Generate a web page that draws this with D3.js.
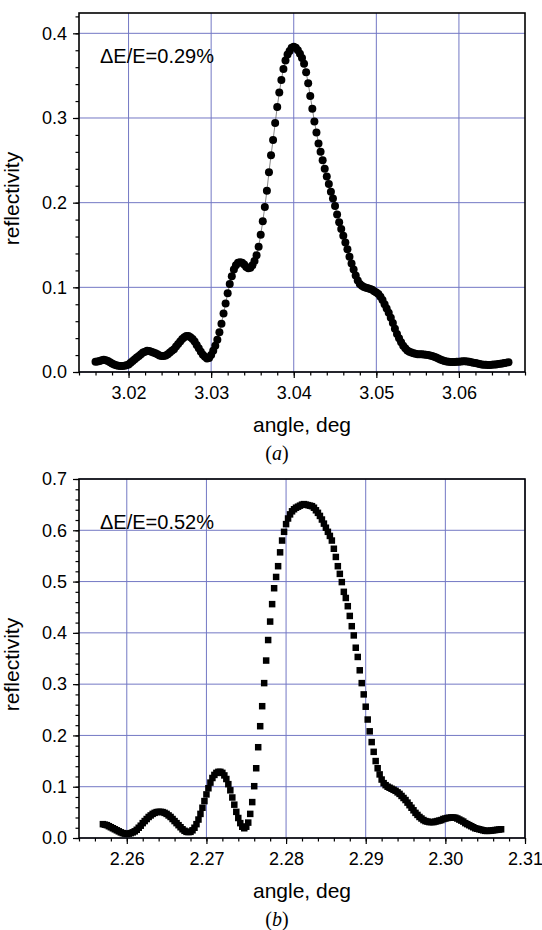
<!DOCTYPE html>
<html>
<head>
<meta charset="utf-8">
<script src="https://cdn.jsdelivr.net/npm/d3@7"></script>
<style>
  body { margin: 0; background: #fff; }
  svg { display: block; }
</style>
</head>
<body>
<div id="chart"></div>
<script>
/* Reflectivity curves vs angle, two panels (a) and (b) */

// panel (a): scan points
const topAngle = [
  3.01600,3.01625,3.01650,3.01675,3.01700,3.01725,3.01750,3.01775,
  3.01800,3.01825,3.01850,3.01875,3.01900,3.01925,3.01950,3.01975,
  3.02000,3.02025,3.02050,3.02075,3.02100,3.02125,3.02150,3.02175,
  3.02200,3.02225,3.02250,3.02275,3.02300,3.02325,3.02350,3.02375,
  3.02400,3.02425,3.02450,3.02475,3.02500,3.02525,3.02550,3.02575,
  3.02600,3.02625,3.02650,3.02675,3.02700,3.02725,3.02750,3.02775,
  3.02800,3.02825,3.02850,3.02875,3.02900,3.02925,3.02950,3.02975,
  3.03000,3.03025,3.03050,3.03075,3.03100,3.03125,3.03150,3.03175,
  3.03200,3.03225,3.03250,3.03275,3.03300,3.03325,3.03350,3.03375,
  3.03400,3.03425,3.03450,3.03475,3.03500,3.03525,3.03550,3.03575,
  3.03600,3.03625,3.03650,3.03675,3.03700,3.03725,3.03750,3.03775,
  3.03800,3.03825,3.03850,3.03875,3.03900,3.03925,3.03950,3.03975,
  3.04000,3.04025,3.04050,3.04075,3.04100,3.04125,3.04150,3.04175,
  3.04200,3.04225,3.04250,3.04275,3.04300,3.04325,3.04350,3.04375,
  3.04400,3.04425,3.04450,3.04475,3.04500,3.04525,3.04550,3.04575,
  3.04600,3.04625,3.04650,3.04675,3.04700,3.04725,3.04750,3.04775,
  3.04800,3.04825,3.04850,3.04875,3.04900,3.04925,3.04950,3.04975,
  3.05000,3.05025,3.05050,3.05075,3.05100,3.05125,3.05150,3.05175,
  3.05200,3.05225,3.05250,3.05275,3.05300,3.05325,3.05350,3.05375,
  3.05400,3.05425,3.05450,3.05475,3.05500,3.05525,3.05550,3.05575,
  3.05600,3.05625,3.05650,3.05675,3.05700,3.05725,3.05750,3.05775,
  3.05800,3.05825,3.05850,3.05875,3.05900,3.05925,3.05950,3.05975,
  3.06000,3.06025,3.06050,3.06075,3.06100,3.06125,3.06150,3.06175,
  3.06200,3.06225,3.06250,3.06275,3.06300,3.06325,3.06350,3.06375,
  3.06400,3.06425,3.06450,3.06475,3.06500,3.06525,3.06550,3.06575,
  3.06600
];
const topRefl = [
  0.012,0.0125,0.013,0.014,0.0145,0.014,0.013,0.0115,
  0.010,0.009,0.008,0.0075,0.007,0.007,0.0075,0.008,
  0.009,0.011,0.013,0.015,0.017,0.019,0.021,0.023,
  0.024,0.025,0.0248,0.024,0.023,0.022,0.021,0.0195,
  0.019,0.019,0.0195,0.021,0.023,0.025,0.027,0.030,
  0.033,0.036,0.039,0.041,0.0425,0.0425,0.041,0.039,
  0.036,0.032,0.028,0.024,0.0205,0.018,0.016,0.0165,
  0.020,0.025,0.031,0.038,0.047,0.057,0.069,0.081,
  0.093,0.104,0.113,0.121,0.126,0.129,0.1295,0.129,
  0.127,0.124,0.1225,0.123,0.126,0.131,0.138,0.148,
  0.162,0.178,0.195,0.214,0.236,0.256,0.274,0.294,
  0.313,0.330,0.345,0.358,0.368,0.375,0.379,0.383,
  0.384,0.383,0.380,0.376,0.371,0.364,0.354,0.341,
  0.326,0.311,0.296,0.283,0.270,0.260,0.250,0.240,
  0.231,0.222,0.213,0.205,0.196,0.186,0.177,0.169,
  0.161,0.153,0.145,0.136,0.128,0.121,0.114,0.108,
  0.104,0.102,0.1005,0.0995,0.099,0.098,0.097,0.0955,
  0.094,0.092,0.089,0.085,0.080,0.075,0.070,0.064,
  0.058,0.051,0.045,0.040,0.035,0.031,0.028,0.0255,
  0.024,0.023,0.022,0.0215,0.021,0.021,0.021,0.0208,
  0.0205,0.020,0.0195,0.019,0.018,0.017,0.016,0.0148,
  0.0138,0.013,0.0125,0.012,0.0118,0.0118,0.0118,0.012,
  0.0122,0.0125,0.0127,0.0127,0.0125,0.012,0.0115,0.011,
  0.0105,0.010,0.0095,0.009,0.0087,0.0085,0.0083,0.0083,
  0.0085,0.0088,0.009,0.0095,0.0098,0.010,0.0105,0.011,
  0.0115
];

// panel (b): scan points
const botAngle = [
  2.25700,2.25725,2.25750,2.25775,2.25800,2.25825,2.25850,2.25875,
  2.25900,2.25925,2.25950,2.25975,2.26000,2.26025,2.26050,2.26075,
  2.26100,2.26125,2.26150,2.26175,2.26200,2.26225,2.26250,2.26275,
  2.26300,2.26325,2.26350,2.26375,2.26400,2.26425,2.26450,2.26475,
  2.26500,2.26525,2.26550,2.26575,2.26600,2.26625,2.26650,2.26675,
  2.26700,2.26725,2.26750,2.26775,2.26800,2.26825,2.26850,2.26875,
  2.26900,2.26925,2.26950,2.26975,2.27000,2.27025,2.27050,2.27075,
  2.27100,2.27125,2.27150,2.27175,2.27200,2.27225,2.27250,2.27275,
  2.27300,2.27325,2.27350,2.27375,2.27400,2.27425,2.27450,2.27475,
  2.27500,2.27525,2.27550,2.27575,2.27600,2.27625,2.27650,2.27675,
  2.27700,2.27725,2.27750,2.27775,2.27800,2.27825,2.27850,2.27875,
  2.27900,2.27925,2.27950,2.27975,2.28000,2.28025,2.28050,2.28075,
  2.28100,2.28125,2.28150,2.28175,2.28200,2.28225,2.28250,2.28275,
  2.28300,2.28325,2.28350,2.28375,2.28400,2.28425,2.28450,2.28475,
  2.28500,2.28525,2.28550,2.28575,2.28600,2.28625,2.28650,2.28675,
  2.28700,2.28725,2.28750,2.28775,2.28800,2.28825,2.28850,2.28875,
  2.28900,2.28925,2.28950,2.28975,2.29000,2.29025,2.29050,2.29075,
  2.29100,2.29125,2.29150,2.29175,2.29200,2.29225,2.29250,2.29275,
  2.29300,2.29325,2.29350,2.29375,2.29400,2.29425,2.29450,2.29475,
  2.29500,2.29525,2.29550,2.29575,2.29600,2.29625,2.29650,2.29675,
  2.29700,2.29725,2.29750,2.29775,2.29800,2.29825,2.29850,2.29875,
  2.29900,2.29925,2.29950,2.29975,2.30000,2.30025,2.30050,2.30075,
  2.30100,2.30125,2.30150,2.30175,2.30200,2.30225,2.30250,2.30275,
  2.30300,2.30325,2.30350,2.30375,2.30400,2.30425,2.30450,2.30475,
  2.30500,2.30525,2.30550,2.30575,2.30600,2.30625,2.30650,2.30675,
  2.30700
];
const botRefl = [
  0.027,0.026,0.025,0.023,0.021,0.019,0.017,0.015,
  0.013,0.011,0.0095,0.0085,0.008,0.0085,0.0095,0.011,
  0.013,0.016,0.020,0.024,0.029,0.033,0.037,0.041,
  0.044,0.047,0.049,0.0505,0.051,0.051,0.0505,0.049,
  0.047,0.044,0.041,0.037,0.033,0.029,0.025,0.021,
  0.017,0.014,0.012,0.0115,0.012,0.015,0.020,0.027,
  0.036,0.047,0.059,0.072,0.085,0.097,0.108,0.117,
  0.123,0.127,0.129,0.129,0.127,0.122,0.115,0.105,
  0.093,0.079,0.065,0.051,0.039,0.029,0.022,0.019,
  0.022,0.030,0.047,0.070,0.101,0.136,0.177,0.218,
  0.257,0.302,0.346,0.386,0.422,0.456,0.487,0.509,
  0.530,0.557,0.580,0.597,0.612,0.623,0.631,0.637,
  0.641,0.644,0.646,0.648,0.650,0.651,0.650,0.649,
  0.648,0.647,0.644,0.639,0.634,0.628,0.621,0.613,
  0.605,0.597,0.589,0.580,0.564,0.548,0.530,0.515,
  0.499,0.480,0.468,0.452,0.433,0.413,0.395,0.371,
  0.353,0.327,0.302,0.280,0.256,0.231,0.208,0.187,
  0.168,0.150,0.136,0.124,0.114,0.107,0.103,0.100,
  0.098,0.096,0.094,0.092,0.089,0.086,0.082,0.078,
  0.074,0.069,0.064,0.059,0.054,0.049,0.045,0.041,
  0.038,0.035,0.033,0.032,0.031,0.031,0.031,0.032,
  0.033,0.034,0.035,0.037,0.038,0.039,0.0395,0.040,
  0.040,0.0395,0.038,0.036,0.034,0.032,0.029,0.027,
  0.025,0.023,0.021,0.019,0.018,0.017,0.016,0.015,
  0.014,0.0138,0.014,0.0145,0.015,0.0155,0.016,0.0165,
  0.017
];

// tick labels
const topXTicks = [3.02, 3.03, 3.04, 3.05, 3.06];
const topYTicks = [0.0, 0.1, 0.2, 0.3, 0.4];
const botXTicks = [2.26, 2.27, 2.28, 2.29, 2.30, 2.31];
const botYTicks = [0.0, 0.1, 0.2, 0.3, 0.4, 0.5, 0.6, 0.7];

const width = 542,
      height = 930,
      margin = ({ left: 79, right: 17 });

const sans = "'Liberation Sans', Arial, sans-serif",
      gridColor = "#7378c4";

let svg = d3.select("#chart")
    .append("svg")
    .attr("width", width)
    .attr("height", height);

const panels = [
    { angle: topAngle, refl: topRefl, xTicks: topXTicks, yTicks: topYTicks,
      xDomain: [3.014, 3.068], yDomain: [0, 0.424], top: 13, bottom: 372,
      note: "\u0394E/E=0.29%", letter: "a", marker: "circle" },
    { angle: botAngle, refl: botRefl, xTicks: botXTicks, yTicks: botYTicks,
      xDomain: [2.254, 2.31], yDomain: [0, 0.7], top: 479, bottom: 838,
      note: "\u0394E/E=0.52%", letter: "b", marker: "square" }
];

panels.forEach(p => {
    const data = p.angle.map((a, i) => ({ a: a, r: p.refl[i] }));

    let x = d3.scaleLinear()
        .domain(p.xDomain)
        .range([margin.left, width - margin.right]);

    let y = d3.scaleLinear()
        .domain(p.yDomain)
        .range([p.bottom, p.top]);

    const g = svg.append("g");

    // grid lines at major ticks
    g.append("g")
        .selectAll("line")
        .data(p.xTicks)
        .join("line")
        .attr("x1", d => x(d)).attr("x2", d => x(d))
        .attr("y1", p.top).attr("y2", p.bottom)
        .attr("stroke", gridColor)
        .attr("stroke-width", 1);

    g.append("g")
        .selectAll("line")
        .data(p.yTicks)
        .join("line")
        .attr("x1", x.range()[0]).attr("x2", x.range()[1])
        .attr("y1", d => y(d)).attr("y2", d => y(d))
        .attr("stroke", gridColor)
        .attr("stroke-width", 1);

    // minor ticks every 0.002 deg / 0.02
    const xMinor = d3.range(p.xDomain[0], p.xDomain[1] + 1e-9, 0.002);
    const yMinor = d3.range(p.yDomain[0], p.yDomain[1] + 1e-9, 0.02);

    g.append("g")
        .attr("transform", `translate(0,${p.bottom})`)
        .call(d3.axisBottom(x).tickValues(xMinor).tickSize(3.5).tickFormat(""))
        .call(a => a.select(".domain").remove());

    g.append("g")
        .attr("transform", `translate(${margin.left},0)`)
        .call(d3.axisLeft(y).tickValues(yMinor).tickSize(3.5).tickFormat(""))
        .call(a => a.select(".domain").remove());

    // major ticks with labels
    g.append("g")
        .attr("transform", `translate(0,${p.bottom})`)
        .call(d3.axisBottom(x).tickValues(p.xTicks).tickSize(6).tickPadding(8)
            .tickFormat(d3.format(".2f")))
        .call(a => a.select(".domain").remove())
        .attr("font-size", 18)
        .attr("font-family", sans);

    g.append("g")
        .attr("transform", `translate(${margin.left},0)`)
        .call(d3.axisLeft(y).tickValues(p.yTicks).tickSize(6).tickPadding(6)
            .tickFormat(d3.format(".1f")))
        .call(a => a.select(".domain").remove())
        .attr("font-size", 18)
        .attr("font-family", sans);

    g.selectAll(".tick line").attr("stroke-width", 1.2);

    // frame
    g.append("rect")
        .attr("x", margin.left)
        .attr("y", p.top)
        .attr("width", width - margin.right - margin.left)
        .attr("height", p.bottom - p.top)
        .attr("fill", "none")
        .attr("stroke", "black")
        .attr("stroke-width", 1.6);

    // data
    if (p.marker === "circle") {
        g.append("path")
            .datum(data)
            .attr("fill", "none")
            .attr("stroke", "#555")
            .attr("stroke-width", 0.7)
            .attr("d", d3.line().x(d => x(d.a)).y(d => y(d.r)));

        g.append("g")
            .selectAll("circle")
            .data(data)
            .join("circle")
            .attr("cx", d => x(d.a))
            .attr("cy", d => y(d.r))
            .attr("r", 4)
            .attr("fill", "black");
    } else {
        const s = 6.5;
        g.append("g")
            .selectAll("rect")
            .data(data)
            .join("rect")
            .attr("x", d => x(d.a) - s / 2)
            .attr("y", d => y(d.r) - s / 2)
            .attr("width", s)
            .attr("height", s)
            .attr("fill", "black");
    }

    // annotation
    g.append("text")
        .attr("x", margin.left + 21)
        .attr("y", p.top + 50)
        .attr("font-family", sans)
        .attr("font-size", 20)
        .text(p.note);

    // axis titles
    g.append("text")
        .attr("x", (x.range()[0] + x.range()[1]) / 2)
        .attr("y", p.bottom + 60)
        .attr("text-anchor", "middle")
        .attr("font-family", sans)
        .attr("font-size", 21)
        .text("angle, deg");

    g.append("text")
        .attr("transform", `translate(19,${(p.top + p.bottom) / 2 + 6}) rotate(-90)`)
        .attr("text-anchor", "middle")
        .attr("font-family", sans)
        .attr("font-size", 21)
        .text("reflectivity");

    // panel caption
    let cap = g.append("text")
        .attr("x", 277)
        .attr("y", p.bottom + 88)
        .attr("text-anchor", "middle")
        .attr("font-family", "'Liberation Serif', 'Times New Roman', serif")
        .attr("font-size", 20);
    cap.append("tspan").text("(");
    cap.append("tspan").attr("font-style", "italic").text(p.letter);
    cap.append("tspan").text(")");
});
</script>
</body>
</html>
